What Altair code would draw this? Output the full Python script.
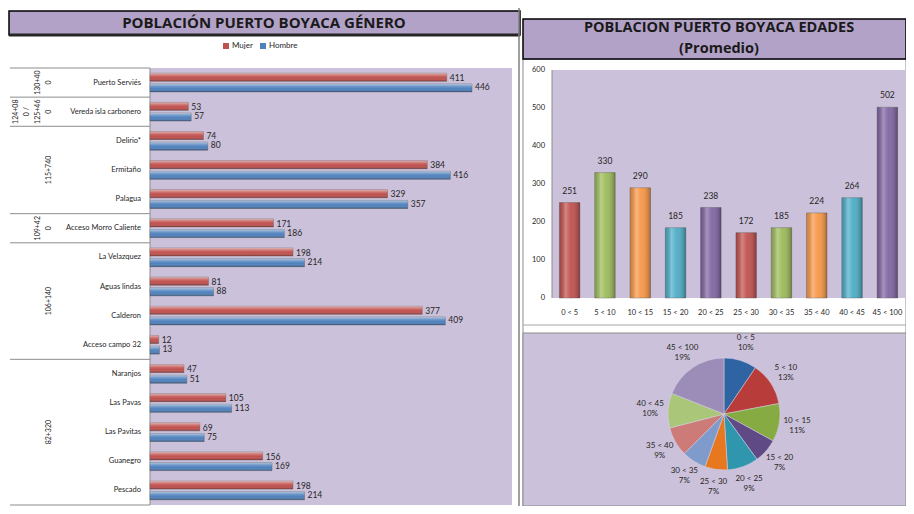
import altair as alt
import pandas as pd

# ---------------- data ----------------
places = ["Puerto Serviés", "Vereda isla carbonero", "Delirio*", "Ermitaño", "Palagua",
          "Acceso Morro Caliente", "La Velazquez", "Aguas lindas", "Calderon", "Acceso campo 32",
          "Naranjos", "Las Pavas", "Las Pavitas", "Guanegro", "Pescado"]
mujer = [411, 53, 74, 384, 329, 171, 198, 81, 377, 12, 47, 105, 69, 156, 198]
hombre = [446, 57, 80, 416, 357, 186, 214, 88, 409, 13, 51, 113, 75, 169, 214]
place_group = ["130+40\n0", "124+08\n0 /\n125+46\n0", "115+740", "115+740", "115+740",
               "109+42\n0", "106+140", "106+140", "106+140", "106+140",
               "82+320", "82+320", "82+320", "82+320", "82+320"]
genders = ["Mujer", "Hombre"]

age_cats = ["0 < 5", "5 < 10", "10 < 15", "15 < 20", "20 < 25",
            "25 < 30", "30 < 35", "35 < 40", "40 < 45", "45 < 100"]
age_vals = [251, 330, 290, 185, 238, 172, 185, 224, 264, 502]
age_pct = [10, 13, 11, 7, 9, 7, 7, 9, 10, 19]
y_ticks = [0, 100, 200, 300, 400, 500, 600]

title_left = "POBLACIÓN PUERTO BOYACA GÉNERO"
title_right = ["POBLACION PUERTO BOYACA EDADES", "(Promedio)"]

# ---------------- styles ----------------
FONT = "Lato"
PURPLE_BG = "#ccc1da"
TITLE_BG = "#b3a2c7"
TXT = "#262626"
bar_colors = ["#c0504d", "#9bbb59", "#f79646", "#4bacc6", "#8064a2",
              "#c0504d", "#9bbb59", "#f79646", "#4bacc6", "#8064a2"]
pie_colors = ["#2f64a3", "#b83c3a", "#86ab43", "#5f4a85", "#2f96ad",
              "#e8781f", "#7e9bcb", "#cc7b79", "#a9c679", "#9c8cb8"]

# ---------------- tables ----------------
long = pd.DataFrame({
    "place": places * 2,
    "gender": ["Mujer"] * len(places) + ["Hombre"] * len(places),
    "value": mujer + hombre,
})
rows = pd.DataFrame({"place": places, "group": place_group, "row": list(range(len(places)))})
grp = rows.groupby("group", sort=False)["row"].agg(["min", "max"]).reset_index()
grp["mid"] = (grp["min"] + grp["max"]) / 2
bounds = pd.DataFrame({"b": sorted(set((grp["min"] - 0.5).tolist() + (grp["max"] + 0.5).tolist()))})

# one row per text line of each group label (k = number of lines after it)
grp_lines = []
for g, mid in zip(grp["group"], grp["mid"]):
    parts = g.split("\n")
    for j, p in enumerate(parts):
        grp_lines.append({"line": p, "mid": mid, "k": len(parts) - 1 - j})
grp_lines = pd.DataFrame(grp_lines)

ages = pd.DataFrame({"cat": age_cats, "value": age_vals, "idx": list(range(len(age_cats))),
                     "label": [f"{c}\n{p}%" for c, p in zip(age_cats, age_pct)]})
ticks = pd.DataFrame({"t": y_ticks})
one = pd.DataFrame({"k": [0]})


def box(x, x2, y, y2, fill, stroke=None, sw=0):
    kw = dict(fill=fill)
    if stroke:
        kw.update(stroke=stroke, strokeWidth=sw)
    return alt.Chart(one).mark_rect(**kw).encode(
        x=alt.value(x), x2=alt.value(x2), y=alt.value(y), y2=alt.value(y2))


def vrule(x, y, y2, color, sw):
    return alt.Chart(one).mark_rule(color=color, strokeWidth=sw).encode(
        x=alt.value(x), y=alt.value(y), y2=alt.value(y2))


def hrule(x, x2, y, color, sw):
    return alt.Chart(one).mark_rule(color=color, strokeWidth=sw).encode(
        x=alt.value(x), x2=alt.value(x2), y=alt.value(y))


# ---------------- left panel ----------------
L_TOP, L_BOT = 60, 497
yband = alt.Scale(domain=places, range=[L_TOP, L_BOT], paddingInner=0.36, paddingOuter=0.18)
yrow = alt.Scale(domain=[-0.5, len(places) - 0.5], range=[L_TOP, L_BOT])
yoff = alt.Scale(domain=genders, paddingInner=0.25)
xL = alt.Scale(domain=[0, 500], range=[142, 503])

hl_h = alt.LinearGradient(gradient="linear", x1=0, y1=0, x2=0, y2=1, stops=[
    alt.GradientStop(offset=0, color="rgba(255,255,255,0.55)"),
    alt.GradientStop(offset=0.35, color="rgba(255,255,255,0.15)"),
    alt.GradientStop(offset=0.6, color="rgba(255,255,255,0)"),
    alt.GradientStop(offset=1, color="rgba(0,0,0,0.3)")])

left_title_bg = box(1, 512, 3, 27, TITLE_BG, "#000000", 1.5)
left_title_bottom = hrule(1, 512, 27, "#262626", 3)
left_title_txt = alt.Chart(pd.DataFrame({"t": [title_left]})).mark_text(
    font="Open Sans", fontWeight="bold", fontSize=15, color="#1a1a1a", align="center", baseline="middle"
).encode(x=alt.value(256), y=alt.value(15), text="t:N")

left_plot_bg = box(142, 504, L_TOP, L_BOT, PURPLE_BG)

bars_L = alt.Chart(long).mark_bar(stroke="#555555", strokeWidth=0.4).encode(
    x=alt.X("value:Q", scale=xL, axis=None),
    y=alt.Y("place:N", scale=yband, sort=places, axis=None),
    yOffset=alt.YOffset("gender:N", scale=yoff, sort=genders),
    color=alt.Color("gender:N", scale=alt.Scale(domain=genders, range=["#c0504d", "#4f81bd"]),
                    legend=alt.Legend(orient="none", legendX=214, legendY=34, direction="horizontal",
                                      title=None, symbolType="square", symbolSize=36,
                                      symbolStrokeWidth=0, labelFontSize=8, labelFont=FONT,
                                      labelColor=TXT, columnPadding=6, labelOffset=2)),
)
bars_L_hl = alt.Chart(long).mark_bar(fill=hl_h).encode(
    x=alt.X("value:Q", scale=xL, axis=None),
    y=alt.Y("place:N", scale=yband, sort=places, axis=None),
    yOffset=alt.YOffset("gender:N", scale=yoff, sort=genders),
)
vals_L = alt.Chart(long).mark_text(align="left", baseline="middle", dx=3, fontSize=8.5,
                                   font=FONT, color=TXT).encode(
    x=alt.X("value:Q", scale=xL, axis=None),
    y=alt.Y("place:N", scale=yband, sort=places, axis=None),
    yOffset=alt.YOffset("gender:N", scale=yoff, sort=genders),
    text="value:Q",
)
cat_L = alt.Chart(rows).mark_text(align="right", baseline="middle", fontSize=7.5,
                                  font=FONT, color=TXT).encode(
    x=alt.value(133),
    y=alt.Y("place:N", scale=yband, sort=places, axis=None),
    text="place:N",
)
grp_L = alt.Chart(grp_lines).mark_text(angle=270, align="center", baseline="middle",
                                       fontSize=7, font=FONT, color=TXT).encode(
    x=alt.X("k:Q", scale=alt.Scale(domain=[0, 3], range=[41, 8]), axis=None),
    y=alt.Y("mid:Q", scale=yrow, axis=None),
    text="line:N",
)
sep_L = alt.Chart(bounds).mark_rule(color="#8c8c8c", strokeWidth=1).encode(
    x=alt.value(2), x2=alt.value(142),
    y=alt.Y("b:Q", scale=yrow, axis=None),
)
axis_L = vrule(142, L_TOP, L_BOT, "#8c8c8c", 1)
divider = vrule(511, 0, 498, "#7f7f7f", 1.5)

# ---------------- right: bar chart ----------------
xR = alt.Scale(domain=age_cats, range=[544, 897], paddingInner=0.42, paddingOuter=0.21)
yR = alt.Scale(domain=[0, 600], range=[290, 62])

hl_v = alt.LinearGradient(gradient="linear", x1=0, y1=0, x2=1, y2=0, stops=[
    alt.GradientStop(offset=0, color="rgba(0,0,0,0.15)"),
    alt.GradientStop(offset=0.3, color="rgba(255,255,255,0.3)"),
    alt.GradientStop(offset=0.55, color="rgba(255,255,255,0.05)"),
    alt.GradientStop(offset=1, color="rgba(0,0,0,0.3)")])

right_title_bg = box(515, 898, 11, 51, TITLE_BG, "#000000", 1.5)
right_title_txt = alt.Chart(pd.DataFrame({"t": title_right, "ln": [0, 1]})).mark_text(
    font="Open Sans", fontWeight="bold", fontSize=14.5, color="#1a1a1a", align="center",
    baseline="middle"
).encode(
    x=alt.value(711),
    y=alt.Y("ln:Q", scale=alt.Scale(domain=[0, 1], range=[20, 41]), axis=None),
    text="t:N",
)
right_frame = box(515, 898, 51, 498, "#ffffff", "#8c8c8c", 1)
right_plot_bg = box(544, 898, 62, 290, PURPLE_BG)
axis_R = vrule(544, 62, 290, "#8c8c8c", 1)

bars_R = alt.Chart(ages).mark_bar(stroke="#555555", strokeWidth=0.4).encode(
    x=alt.X("cat:N", scale=xR, sort=age_cats, axis=None),
    y=alt.Y("value:Q", scale=yR, axis=None),
    color=alt.Color("cat:N", scale=alt.Scale(domain=age_cats, range=bar_colors), legend=None),
)
bars_R_hl = alt.Chart(ages).mark_bar(fill=hl_v).encode(
    x=alt.X("cat:N", scale=xR, sort=age_cats, axis=None),
    y=alt.Y("value:Q", scale=yR, axis=None),
)
vals_R = alt.Chart(ages).mark_text(baseline="bottom", dy=-7, fontSize=8.5, font=FONT, color=TXT).encode(
    x=alt.X("cat:N", scale=xR, sort=age_cats, axis=None),
    y=alt.Y("value:Q", scale=yR, axis=None),
    text="value:Q",
)
ylab_R = alt.Chart(ticks).mark_text(align="right", baseline="middle", fontSize=7.5, font=FONT,
                                    color=TXT).encode(
    x=alt.value(537),
    y=alt.Y("t:Q", scale=yR, axis=None),
    text="t:Q",
)
xlab_R = alt.Chart(ages).mark_text(baseline="middle", fontSize=7.5, font=FONT, color=TXT).encode(
    x=alt.X("cat:N", scale=xR, sort=age_cats, axis=None),
    y=alt.value(305),
    text="cat:N",
)
sep_R = hrule(515, 898, 317, "#a6a6a6", 1)

# ---------------- right: pie ----------------
pie_bg = box(515, 898, 325, 498, PURPLE_BG, "#8c8c8c", 1)
CX, CY = 716, 406
pie = alt.Chart(ages).mark_arc(outerRadius=56, stroke="#d9d2e6", strokeWidth=0.5).encode(
    x=alt.value(CX), y=alt.value(CY),
    theta=alt.Theta("value:Q", stack=True),
    order=alt.Order("idx:Q"),
    color=alt.Color("cat:N", scale=alt.Scale(domain=age_cats, range=pie_colors), legend=None),
)
pie_lab = alt.Chart(ages).mark_text(radius=74, lineBreak="\n", fontSize=8, font=FONT, color=TXT,
                                    align="center", baseline="middle", lineHeight=10).encode(
    x=alt.value(CX), y=alt.value(CY - 5),
    theta=alt.Theta("value:Q", stack=True),
    order=alt.Order("idx:Q"),
    text="label:N",
)

chart = alt.layer(
    left_plot_bg, sep_L, axis_L, bars_L, bars_L_hl, vals_L, cat_L, grp_L,
    left_title_bg, left_title_bottom, left_title_txt,
    right_frame, right_plot_bg, axis_R, bars_R, bars_R_hl, vals_R, ylab_R, xlab_R, sep_R,
    pie_bg, pie, pie_lab,
    right_title_bg, right_title_txt, divider,
).resolve_scale(
    x="independent", y="independent", color="independent", theta="independent",
    yOffset="independent"
).properties(
    width=898, height=498, padding=0, background="white",
    autosize=alt.AutoSizeParams(type="none")
).configure_view(stroke=None)

chart.save("out.html", embed_options={"renderer": "svg", "actions": False})
